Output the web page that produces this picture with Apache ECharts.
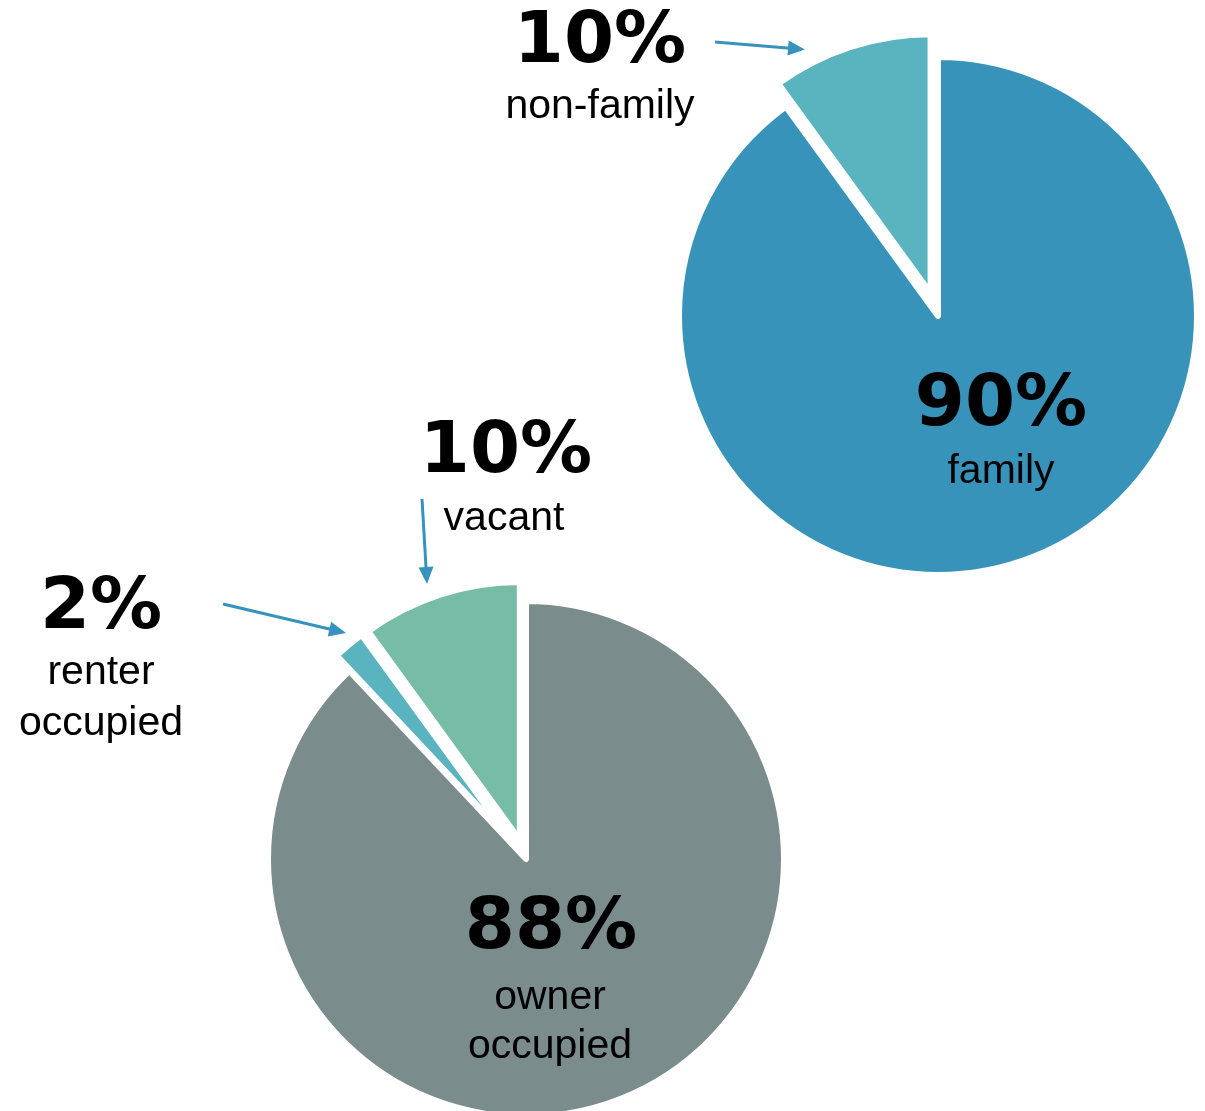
<!DOCTYPE html>
<html>
<head>
<meta charset="utf-8">
<script src="https://cdn.jsdelivr.net/npm/echarts@6/dist/echarts.min.js"></script>
<style>
  html, body { margin: 0; padding: 0; background: #ffffff; }
  #chart { width: 1205px; height: 1111px; }
</style>
</head>
<body>
<div id="chart"></div>
<script>
// ---- data ----
const householdCategories = ['family', 'non-family'];
const householdValues = [90, 10];
const householdColors = ['#3793ba', '#59b4bf'];

const occupancyCategories = ['owner occupied', 'renter occupied', 'vacant'];
const occupancyValues = [88, 2, 10];
const occupancyColors = ['#7b8c8d', '#59b4c0', '#76bca6'];

// ---- helpers ----
const PCT_FONT = 'bold 72px "DejaVu Sans"';
const LBL_FONT = '41px "Liberation Sans"';
const ARROW_COLOR = '#3793bd';

function pctText(v) { return v + '%'; }

function textEl(text, x, y, font) {
  return {
    type: 'text', silent: true, z: 100,
    style: { text: text, x: x, y: y, font: font, fill: '#000000',
             textAlign: 'center', textVerticalAlign: 'middle' }
  };
}

function arrowEls(x1, y1, x2, y2) {
  const dx = x2 - x1, dy = y2 - y1;
  const len = Math.sqrt(dx * dx + dy * dy);
  const ux = dx / len, uy = dy / len;
  const hl = 17, hw = 7.5;
  const bx = x2 - ux * hl, by = y2 - uy * hl;
  return [
    { type: 'line', silent: true, z: 100,
      shape: { x1: x1, y1: y1, x2: bx + ux * 2, y2: by + uy * 2 },
      style: { stroke: ARROW_COLOR, lineWidth: 3 } },
    { type: 'polygon', silent: true, z: 100,
      shape: { points: [[x2, y2], [bx - uy * hw, by + ux * hw], [bx + uy * hw, by - ux * hw]] },
      style: { fill: ARROW_COLOR } }
  ];
}

function pieData(cats, vals, colors, selectedIdx) {
  return cats.map((c, i) => ({
    name: c, value: vals[i],
    selected: selectedIdx.indexOf(i) >= 0,
    itemStyle: { color: colors[i] }
  }));
}

const pieCommon = {
  type: 'pie',
  z: 2,
  startAngle: 90,
  clockwise: true,
  selectedMode: 'multiple',
  label: { show: false },
  labelLine: { show: false },
  emphasis: { disabled: true, scale: false },
  select: { itemStyle: { borderColor: '#ffffff', borderWidth: 6 } },
  itemStyle: { borderColor: '#ffffff', borderWidth: 6 },
  animation: false
};

const graphics = [
  textEl(pctText(householdValues[1]), 600, 43, PCT_FONT),
  textEl(householdCategories[1], 600, 107, LBL_FONT),
  textEl(pctText(householdValues[0]), 1001, 406, PCT_FONT),
  textEl(householdCategories[0], 1001, 472, LBL_FONT),

  textEl(pctText(occupancyValues[2]), 506, 453, PCT_FONT),
  textEl(occupancyCategories[2], 504, 519, LBL_FONT),
  textEl(pctText(occupancyValues[1]), 101, 609, PCT_FONT),
  textEl('renter', 101, 673, LBL_FONT),
  textEl('occupied', 101, 724, LBL_FONT),
  textEl(pctText(occupancyValues[0]), 551, 929, PCT_FONT),
  textEl('owner', 550, 998, LBL_FONT),
  textEl('occupied', 550, 1047, LBL_FONT)
].concat(
  arrowEls(715, 42, 805, 49.5),
  arrowEls(422, 499, 427, 584),
  arrowEls(223, 604, 346, 633)
);

const chart = echarts.init(document.getElementById('chart'), null, { renderer: 'canvas' });
chart.setOption({
  backgroundColor: '#ffffff',
  animation: false,
  tooltip: { show: false },
  series: [
    Object.assign({}, pieCommon, {
      name: 'household',
      center: [938, 316],
      radius: [0, 259],
      selectedOffset: 24,
      data: pieData(householdCategories, householdValues, householdColors, [1])
    }),
    Object.assign({}, pieCommon, {
      name: 'occupancy',
      center: [526, 859],
      radius: [0, 258],
      selectedOffset: 20,
      data: pieData(occupancyCategories, occupancyValues, occupancyColors, [1, 2])
    })
  ],
  graphic: { elements: graphics }
});
</script>
</body>
</html>
